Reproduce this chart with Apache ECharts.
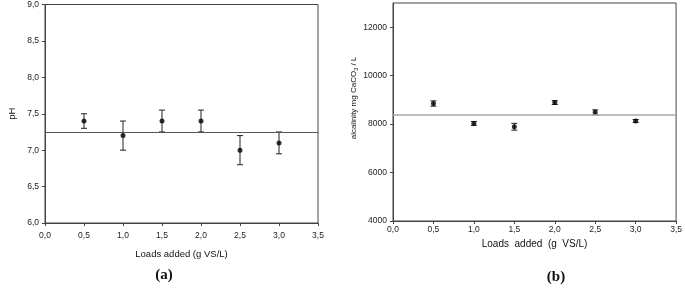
<!DOCTYPE html>
<html>
<head>
<meta charset="utf-8">
<script src="https://cdn.jsdelivr.net/npm/echarts@6/dist/echarts.min.js"></script>
<style>
  html, body { margin: 0; padding: 0; background: #fff; }
  #chart { width: 685px; height: 289px; }
</style>
</head>
<body>
<div id="chart"></div>
<script>
// loads added (g VS/L)
var loads = [0.5, 1.0, 1.5, 2.0, 2.5, 3.0];
// (a) pH
var phMean = [7.4, 7.2, 7.4, 7.4, 7.0, 7.1];
var phLow = [7.3, 7.0, 7.25, 7.25, 6.8, 6.95];
var phHigh = [7.5, 7.4, 7.55, 7.55, 7.2, 7.25];
var phRef = 7.25;
// (b) alcalinity mg CaCO3 / L
var alkMean = [8850, 8030, 7890, 8890, 8490, 8130];
var alkErr = [110, 80, 140, 80, 100, 60];
var alkRef = 8370;
var alkTicks = [4000, 6000, 8000, 10000, 12000];

var font = 'Liberation Sans';
var comma = function (v) { return v.toFixed(1).replace('.', ','); };

function errBar(params, api) {
    var x = api.value(0);
    var lo = api.coord([x, api.value(1)]);
    var hi = api.coord([x, api.value(2)]);
    var w = 3;
    var st = {stroke: '#222', lineWidth: 1};
    return {
        type: 'group',
        children: [
            {type: 'line', shape: {x1: lo[0], y1: lo[1], x2: hi[0], y2: hi[1]}, style: st},
            {type: 'line', shape: {x1: lo[0] - w, y1: lo[1], x2: lo[0] + w, y2: lo[1]}, style: st},
            {type: 'line', shape: {x1: hi[0] - w, y1: hi[1], x2: hi[0] + w, y2: hi[1]}, style: st}
        ]
    };
}

function xAxisFor(idx, nameGap, nameSize, labelSize, labelMargin, name) {
    return {
        gridIndex: idx,
        type: 'value',
        min: 0, max: 3.5, interval: 0.5,
        name: name,
        nameLocation: 'middle',
        nameGap: nameGap,
        nameTextStyle: {fontFamily: font, fontSize: nameSize, color: '#111'},
        axisLine: {lineStyle: {color: '#444', width: 1}},
        axisTick: {inside: false, length: 3, lineStyle: {color: '#444'}},
        axisLabel: {fontFamily: font, fontSize: labelSize, color: '#222', margin: labelMargin, formatter: comma},
        splitLine: {show: false}
    };
}

var phPts = loads.map(function (x, i) { return [x, phMean[i]]; });
var phBars = loads.map(function (x, i) { return [x, phLow[i], phHigh[i]]; });
var alkPts = loads.map(function (x, i) { return [x, alkMean[i]]; });
var alkBars = loads.map(function (x, i) { return [x, alkMean[i] - alkErr[i], alkMean[i] + alkErr[i]]; });

var chart = echarts.init(document.getElementById('chart'));
chart.setOption({
    animation: false,
    backgroundColor: '#fff',
    title: [
        {text: '(a)', left: 159, top: 263, textAlign: 'center',
         textStyle: {fontFamily: 'Liberation Serif', fontWeight: 'bold', fontSize: 15, color: '#111'}},
        {text: '(b)', left: 551, top: 265, textAlign: 'center',
         textStyle: {fontFamily: 'Liberation Serif', fontWeight: 'bold', fontSize: 15, color: '#111'}}
    ],
    grid: [
        {left: 45, top: 4, width: 273, height: 219, show: true, borderColor: '#444', borderWidth: 1},
        {left: 393, top: 3, width: 285, height: 218, show: true, borderColor: '#444', borderWidth: 1}
    ],
    xAxis: [
        xAxisFor(0, 26, 9.5, 8.5, 8, 'Loads added (g VS/L)'),
        xAxisFor(1, 16, 10, 8.5, 4, 'Loads  added  (g  VS/L)')
    ],
    yAxis: [
        {
            gridIndex: 0, type: 'value', min: 6, max: 9, interval: 0.5,
            name: 'pH', nameLocation: 'middle', nameGap: 28,
            nameTextStyle: {fontFamily: font, fontSize: 9.5, color: '#111'},
            axisLine: {lineStyle: {color: '#444'}},
            axisTick: {length: 3, lineStyle: {color: '#444'}},
            axisLabel: {fontFamily: font, fontSize: 8.5, color: '#222', margin: 6, formatter: comma},
            splitLine: {show: false}
        },
        {
            gridIndex: 1, type: 'value', min: 4000, max: 13000,
            name: 'alcalinity mg CaCO{sub|3} / L', nameLocation: 'middle', nameGap: 34,
            nameTextStyle: {fontFamily: font, fontSize: 8, color: '#111', padding: [0, 0, 0, 28],
                rich: {sub: {fontFamily: font, fontSize: 5.5, color: '#111', padding: [5, 0, 0, 0]}}},
            axisLine: {lineStyle: {color: '#444'}},
            axisTick: {length: 3, lineStyle: {color: '#444'}, customValues: alkTicks},
            axisLabel: {fontFamily: font, fontSize: 8.5, color: '#222', margin: 6, customValues: alkTicks,
                formatter: function (v) { return String(v); }},
            splitLine: {show: false}
        }
    ],
    series: [
        {
            type: 'custom', xAxisIndex: 0, yAxisIndex: 0, renderItem: errBar,
            encode: {x: 0, y: [1, 2]}, data: phBars, z: 2
        },
        {
            type: 'scatter', xAxisIndex: 0, yAxisIndex: 0, data: phPts,
            symbol: 'circle', symbolSize: 5, itemStyle: {color: '#000'}, z: 3,
            markLine: {
                silent: true, symbol: 'none', label: {show: false},
                lineStyle: {color: '#555', width: 1, type: 'solid'},
                data: [{yAxis: phRef}]
            }
        },
        {
            type: 'custom', xAxisIndex: 1, yAxisIndex: 1, renderItem: errBar,
            encode: {x: 0, y: [1, 2]}, data: alkBars, z: 2
        },
        {
            type: 'scatter', xAxisIndex: 1, yAxisIndex: 1, data: alkPts,
            symbol: 'circle', symbolSize: 5, itemStyle: {color: '#000'}, z: 3,
            markLine: {
                silent: true, symbol: 'none', label: {show: false},
                lineStyle: {color: '#a8a8a8', width: 1.6, type: 'solid'},
                data: [{yAxis: alkRef}]
            }
        }
    ]
});
</script>
</body>
</html>
